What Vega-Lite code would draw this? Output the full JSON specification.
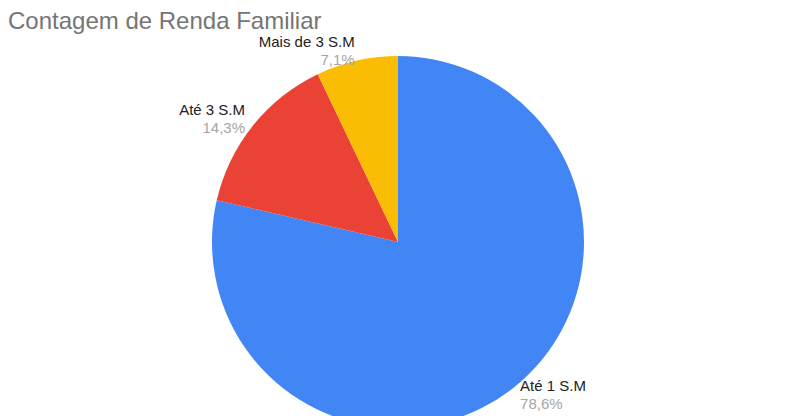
{
  "$schema": "https://vega.github.io/schema/vega-lite/v6.json",
  "width": 780,
  "height": 368,
  "autosize": {"type": "none"},
  "padding": {"top": 58, "left": 8, "right": 0, "bottom": 0},
  "background": "white",
  "title": {
    "text": "Contagem de Renda Familiar",
    "anchor": "start",
    "frame": "group",
    "fontSize": 24,
    "font": "Liberation Sans",
    "fontWeight": "normal",
    "color": "#757575",
    "offset": 0,
    "dy": -1
  },
  "data": {
    "values": [
      {"Renda": "Até 1 S.M", "Percentual": 78.6, "Rotulo": "78,6%"},
      {"Renda": "Até 3 S.M", "Percentual": 14.3, "Rotulo": "14,3%"},
      {"Renda": "Mais de 3 S.M", "Percentual": 7.1, "Rotulo": "7,1%"}
    ]
  },
  "encoding": {
    "theta": {"field": "Percentual", "type": "quantitative", "stack": true},
    "order": {"field": "Renda", "sort": "ascending"}
  },
  "layer": [
    {
      "mark": {"type": "arc", "outerRadius": 186},
      "encoding": {
        "color": {
          "field": "Renda",
          "type": "nominal",
          "scale": {
            "domain": ["Até 1 S.M", "Até 3 S.M", "Mais de 3 S.M"],
            "range": ["#4285f4", "#ea4335", "#fbbc04"]
          },
          "legend": null
        }
      }
    },
    {
      "mark": {
        "type": "text",
        "radius": 196,
        "baseline": "bottom",
        "dy": -1,
        "fontSize": 15,
        "font": "Liberation Sans",
        "color": "#222222",
        "align": {"expr": "datum.Renda === 'Até 1 S.M' ? 'left' : 'right'"}
      },
      "encoding": {
        "detail": {"field": "Renda", "type": "nominal"},
        "text": {"field": "Renda", "type": "nominal"}
      }
    },
    {
      "mark": {
        "type": "text",
        "radius": 196,
        "baseline": "top",
        "dy": 2,
        "fontSize": 15,
        "font": "Liberation Sans",
        "color": "#a6a6a6",
        "align": {"expr": "datum.Renda === 'Até 1 S.M' ? 'left' : 'right'"}
      },
      "encoding": {
        "detail": {"field": "Renda", "type": "nominal"},
        "text": {"field": "Rotulo", "type": "nominal"}
      }
    }
  ],
  "config": {"view": {"stroke": null}}
}
